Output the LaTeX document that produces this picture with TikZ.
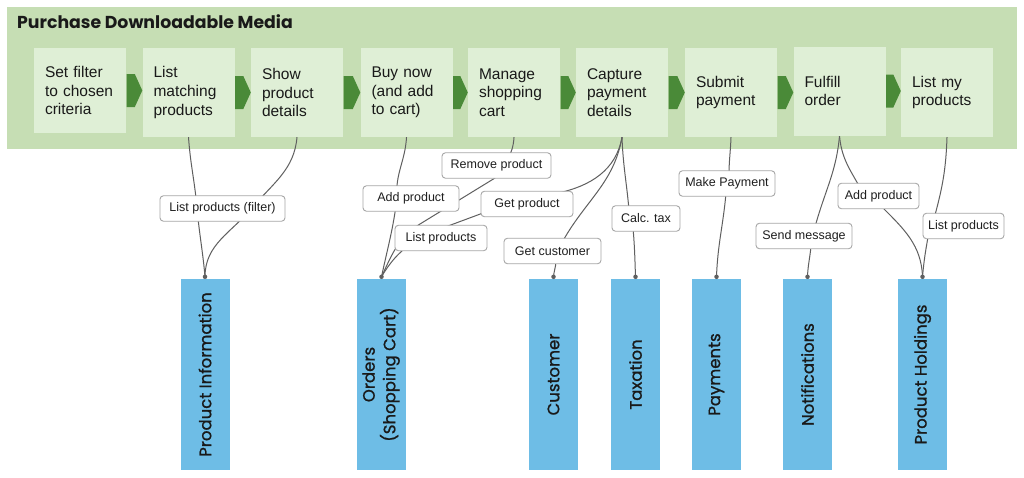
\documentclass[tikz,border=0pt]{standalone}
\usepackage{fontspec}
\usepackage{graphicx}
\setmainfont{Liberation Sans}
\newfontfamily\popfont{Poppins}
\newfontfamily\popmed{Poppins}[FakeBold=1]
\usetikzlibrary{calc}
\pgfdeclarelayer{back}
\pgfdeclarelayer{wires}
\pgfsetlayers{back,wires,main}
\definecolor{bandgreen}{HTML}{C6DEB4}
\definecolor{stepgreen}{HTML}{DFEFD6}
\definecolor{chevgreen}{HTML}{4A8A38}
\definecolor{dbblue}{HTML}{6EBDE6}
\definecolor{wiregray}{HTML}{5F5F5F}
\definecolor{lblborder}{HTML}{A6A6A6}
\begin{document}
\begin{tikzpicture}[x=1pt,y=-1pt,
 stepbox/.style={fill=stepgreen, text width=70pt, inner xsep=11pt, inner ysep=0pt, minimum height=89pt, align=left, font=\fontsize{15.5}{18.6}\selectfont, text=black!90},
 chev/.style={fill=chevgreen},
 dbbox/.style={fill=dbblue, minimum width=49pt, minimum height=191pt, inner sep=0pt, font=\popmed\fontsize{16.5}{17.5}\selectfont, text=black!90},
 lbl/.style={draw=lblborder, line width=0.9pt, fill=white, rounded corners=3.5pt, minimum height=25.5pt, inner xsep=2pt, inner ysep=0pt, font=\fontsize{12.5}{15}\selectfont, text=black!88},
 wire/.style={draw=wiregray, line width=1pt},
 dot/.style={circle, fill=wiregray, inner sep=0pt, minimum size=4.5pt}]
\useasboundingbox (0,0) rectangle (1024,477);
\begin{pgfonlayer}{back}
\fill[white] (0,0) rectangle (1024,477);
\fill[bandgreen] (7,7) rectangle (1017,149);
\end{pgfonlayer}
\node[anchor=base west, font=\popfont\bfseries\fontsize{17.3}{20}\selectfont, inner sep=0pt, text=black!90] (title) at (17,28) {Purchase Downloadable Media};
% steps
\node[stepbox, minimum height=85pt] (s1) at (80,90.5) {Set filter\\to chosen\\criteria};
\node[stepbox] (s2) at (188.5,92.5) {List\\matching\\products};
\node[stepbox] (s3) at (297,92.5) {Show\\product\\details};
\node[stepbox] (s4) at (406.5,92.5) {Buy now\\(and add\\to cart)};
\node[stepbox] (s5) at (514,92.5) {Manage\\shopping\\cart};
\node[stepbox] (s6) at (622,92.5) {Capture\\payment\\details};
\node[stepbox] (s7) at (731,92.5) {Submit\\payment};
\node[stepbox] (s8) at (839.5,91) {Fulfill\\order};
\node[stepbox] (s9) at (947,92.5) {List my\\products};
\foreach \a/\b in {s1/s2,s2/s3,s3/s4,s4/s5,s5/s6,s6/s7,s7/s8,s8/s9}{
  \fill[chev] let \p1=(\a.east), \p2=(\b.west) in
    (\x1+0.5pt,\y1+16.5pt) -- (\x2-7.5pt,\y1+16.5pt) -- (\x2,\y1) -- (\x2-7.5pt,\y1-16.5pt) -- (\x1+0.5pt,\y1-16.5pt) -- cycle;
}
% data stores
\node[dbbox] (pi) at (205,374.5) {\rotatebox{90}{Product Information}};
\node[dbbox] (oc) at (381.5,374.5) {\rotatebox{90}{\begin{tabular}{@{}c@{}}Orders\\(Shopping Cart)\end{tabular}}};
\node[dbbox] (cu) at (553.5,374.5) {\rotatebox{90}{Customer}};
\node[dbbox] (tx) at (635.5,374.5) {\rotatebox{90}{Taxation}};
\node[dbbox] (pay) at (716.5,374.5) {\rotatebox{90}{Payments}};
\node[dbbox] (no) at (807.5,374.5) {\rotatebox{90}{Notifications}};
\node[dbbox] (ph) at (922.5,374.5) {\rotatebox{90}{Product Holdings}};
\foreach \d in {pi,oc,cu,tx,pay,no,ph}{
  \coordinate (\d-top) at ([yshift=2pt]\d.north);
}
% labels
\node[lbl, minimum width=125pt] (lpf) at (222.5,208.5) {List products (filter)};
\node[lbl, minimum width=96pt] (ap1) at (411,198.5) {Add product};
\node[lbl, minimum width=109pt] (rp) at (496.5,165.5) {Remove product};
\node[lbl, minimum width=92pt] (gp) at (527,204) {Get product};
\node[lbl, minimum width=92pt] (lp1) at (441,238) {List products};
\node[lbl, minimum width=97pt] (gc) at (552.5,251) {Get customer};
\node[lbl, minimum width=68pt] (ct) at (646,218.5) {Calc. tax};
\node[lbl, minimum width=96pt] (mp) at (727,183.5) {Make Payment};
\node[lbl, minimum width=96pt] (sm) at (804,236) {Send message};
\node[lbl, minimum width=81pt] (ap2) at (878.5,196) {Add product};
\node[lbl, minimum width=81pt] (lp2) at (963.5,226) {List products};
% connectors
\begin{pgfonlayer}{wires}
\draw[wire] (s2.south) to[out=-86,in=95] (197,208) to[out=-85,in=95] (pi-top);
\draw[wire] (s3.south) to[out=-95,in=50] (252,208) to[out=230,in=90] (pi-top);
\draw[wire] (s4.south) to[out=-93,in=95] (397,198) to[out=-97,in=78] (oc-top);
\draw[wire] (s5.south) to[out=-93,in=55] (495,178) -- (420,224) to[out=212,in=65] (oc-top);
\draw[wire] (s6.south) to[out=-100,in=12] (558,193) -- (483,213) -- (448,226) to[out=200,in=60] (oc-top);
\draw[wire] (s6.south) to[out=-100,in=60] (564,239) -- (556,262) to[out=-95,in=85] (cu-top);
\draw[wire] (s6.south) to[out=-88,in=95] (629,210) -- (633,228) to[out=-85,in=92] (tx-top);
\draw[wire] (s7.south) to[out=-92,in=90] (729,175) -- (726,193) to[out=-95,in=88] (pay-top);
\draw[wire] (s8.south) to[out=-95,in=75] (815,227) -- (811,246) to[out=-95,in=88] (no-top);
\draw[wire] (s8.south) to[out=-85,in=120] (858,184) -- (882,207) to[out=-45,in=92] (ph-top);
\draw[wire] (s9.south) to[out=-92,in=75] (935,215) -- (928,237) to[out=-100,in=85] (ph-top);
\end{pgfonlayer}
\foreach \d in {pi,oc,cu,tx,pay,no,ph}{
  \node[dot] at (\d-top) {};
}
\end{tikzpicture}
\end{document}
